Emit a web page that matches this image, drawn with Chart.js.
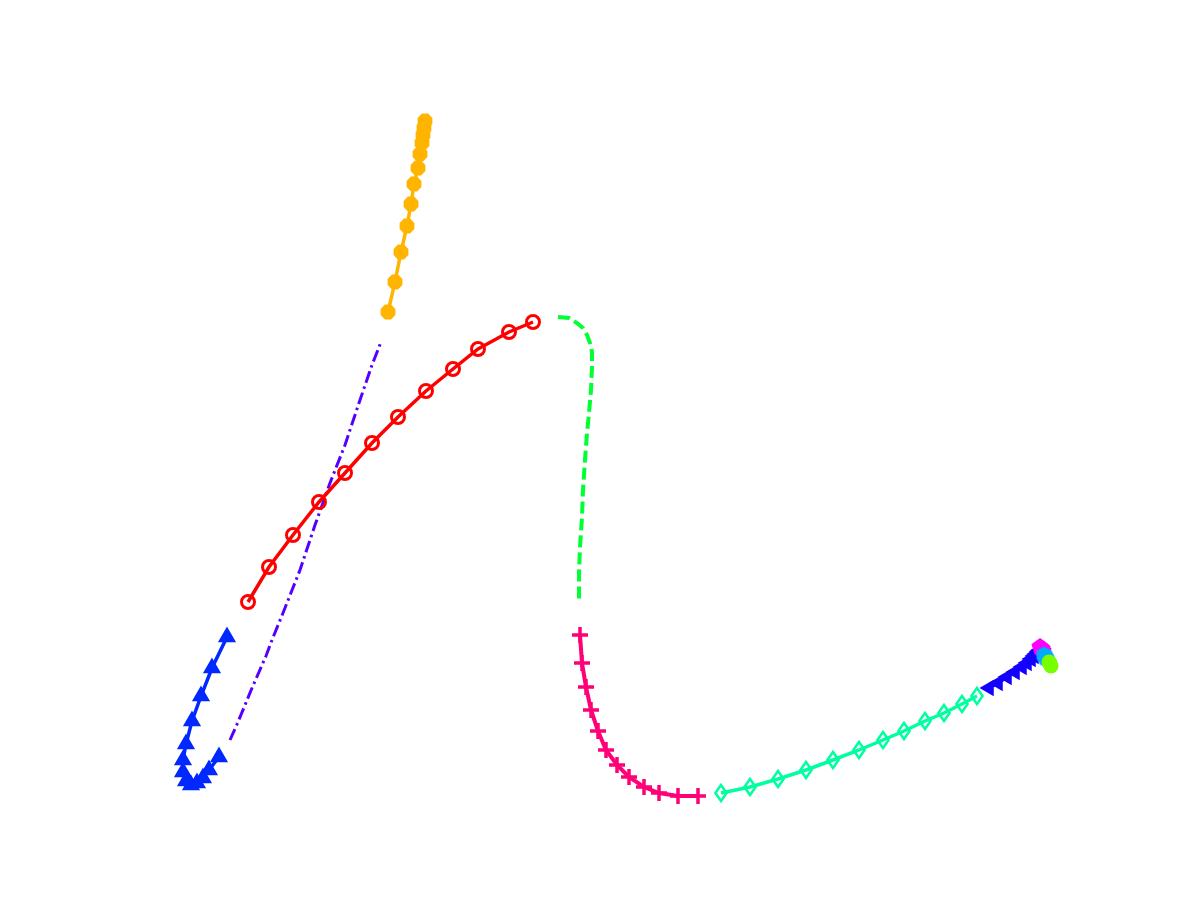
<!DOCTYPE html>
<html>
<head>
<meta charset="utf-8">
<script src="https://cdn.jsdelivr.net/npm/chart.js@4.4.0/dist/chart.umd.min.js"></script>
<style>
  body { margin: 0; background: #fff; }
  #wrap { width: 1201px; height: 901px; }
</style>
</head>
<body>
<div id="wrap"><canvas id="curve" width="1201" height="901"></canvas></div>
<script>
// values (x right, y down, in figure units)
var redX = [248, 269, 293, 319, 345, 372, 398, 426, 453, 478, 509, 533];
var redY = [602, 567, 535, 502, 473, 443, 417, 391, 369, 349, 332, 322];

var orangeX = [388, 395, 401, 407, 411, 414, 418, 420, 422, 423, 424, 425];
var orangeY = [312, 282, 252, 226, 204, 184, 168, 154, 143, 135, 128, 121];

var limeX = [558, 569, 577, 583, 587, 590, 592, 592, 591, 589, 587, 585, 583, 582, 580, 579, 579];
var limeY = [317, 318, 323, 328, 335, 343, 352, 367, 390, 413, 433, 460, 490, 517, 547, 573, 602];

var pinkX = [580, 582, 586, 591, 598, 606, 617, 629, 644, 659, 678, 698];
var pinkY = [635, 663, 687, 710, 731, 750, 765, 777, 787, 793, 796, 796];

var aquaX = [721, 750, 778, 806, 833, 859, 883, 904, 925, 944, 962, 977];
var aquaY = [793, 787, 779, 770, 760, 750, 740, 731, 721, 713, 704, 696];

var blueLeftX = [989, 998, 1007, 1015, 1022, 1027, 1031, 1034, 1036, 1038, 1039, 1040];
var blueLeftY = [688, 683, 677, 672, 667, 663, 659, 656, 654, 652, 651, 650];

var magentaX = [1040, 1041, 1042, 1043];
var magentaY = [647, 648, 649, 651];
var skyX = [1044, 1045, 1046, 1047];
var skyY = [655, 656, 658, 660];
var chartreuseX = [1049, 1050, 1050, 1051];
var chartreuseY = [662, 663, 664, 666];

var blueUpX = [227, 212, 201, 192, 186, 183, 183, 186, 191, 197, 203, 209, 219];
var blueUpY = [637, 668, 696, 721, 744, 760, 772, 781, 785, 783, 778, 770, 757];

var violetX = [230, 238, 245, 252, 259, 266, 272, 283, 300, 315, 330, 345, 360, 372, 381];
var violetY = [740, 722, 705, 688, 672, 656, 640, 613, 570, 525, 483, 445, 400, 365, 342];

function pts(xs, ys) {
  return xs.map(function (x, i) { return { x: x, y: ys[i] }; });
}

// small marker sprites chart.js doesn't have (polygons, thin diamond)
function poly(sides, r, color, turn, squash, stroke) {
  var c = document.createElement('canvas');
  var s = Math.ceil(r * 2 + 6);
  c.width = s; c.height = s;
  var g = c.getContext('2d');
  g.beginPath();
  for (var i = 0; i < sides; i++) {
    var a = turn + i * 2 * Math.PI / sides;
    var px = s / 2 + r * Math.sin(a) * (squash || 1), py = s / 2 - r * Math.cos(a);
    if (i == 0) g.moveTo(px, py); else g.lineTo(px, py);
  }
  g.closePath();
  if (stroke) {
    g.strokeStyle = color;
    g.lineWidth = stroke;
    g.lineJoin = 'miter';
    g.stroke();
  } else {
    g.fillStyle = color;
    g.fill();
  }
  return c;
}

function series(xs, ys, color, extra) {
  var d = {
    data: pts(xs, ys),
    showLine: true,
    borderColor: color,
    backgroundColor: color,
    borderWidth: 3.5,
    tension: 0,
    pointRadius: 0,
    pointBorderColor: color,
    pointBackgroundColor: color
  };
  for (var k in extra) d[k] = extra[k];
  return d;
}

// first dataset ends up on top
var datasets = [
  series(chartreuseX, chartreuseY, '#77ff00', { pointStyle: 'circle', pointRadius: 7.5, pointBorderWidth: 0 }),
  series(skyX, skyY, '#00aaff', { pointStyle: poly(6, 8.5, '#00aaff', 0), pointRadius: 8 }),
  series(magentaX, magentaY, '#ff00ff', { pointStyle: poly(5, 9, '#ff00ff', 0), pointRadius: 8 }),
  series(blueLeftX, blueLeftY, '#1400ff', { pointStyle: 'triangle', pointRotation: -90, pointRadius: 8, pointBorderWidth: 1.5 }),
  series(aquaX, aquaY, '#00ffa0', { pointStyle: poly(4, 8, '#00ffa0', 0, 0.7, 2.5), pointRadius: 8 }),
  series(pinkX, pinkY, '#ff0077', { borderWidth: 4, pointStyle: 'cross', pointRadius: 8, pointBorderWidth: 3.5 }),
  series(limeX, limeY, '#00ff33', { borderWidth: 4, borderDash: [12, 5] }),
  series(redX, redY, '#ff0000', { pointStyle: 'circle', pointRadius: 6.5, pointBorderWidth: 3, pointBackgroundColor: 'rgba(0,0,0,0)' }),
  series(orangeX, orangeY, '#ffb400', { pointStyle: poly(8, 8, '#ffb400', Math.PI / 8), pointRadius: 8 }),
  series(violetX, violetY, '#5500ff', { borderWidth: 3, borderDash: [12, 4, 2.5, 4] }),
  series(blueUpX, blueUpY, '#0028ff', { pointStyle: 'triangle', pointRadius: 9, pointBorderWidth: 1.5 })
];

var config = {
  type: 'scatter',
  data: { datasets: datasets },
  options: {
    responsive: false,
    animation: false,
    events: [],
    layout: { padding: 0, autoPadding: false },
    plugins: { legend: { display: false }, tooltip: { enabled: false } },
    scales: {
      x: { type: 'linear', display: false, min: 0, max: 1201 },
      y: { type: 'linear', display: false, min: 0, max: 901, reverse: true }
    }
  }
};

var curveChart = new Chart(document.getElementById('curve'), config);
</script>
</body>
</html>
